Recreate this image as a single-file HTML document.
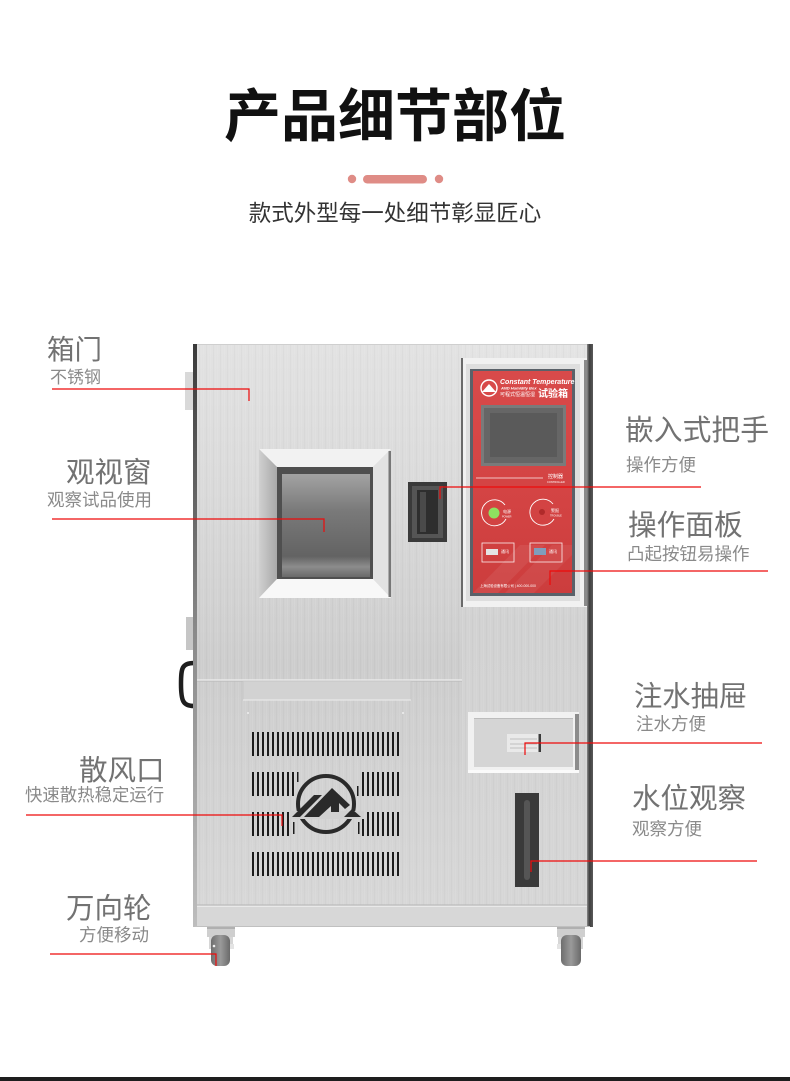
<!DOCTYPE html>
<html><head><meta charset="utf-8">
<style>
html,body{margin:0;padding:0;background:#fff;}
body{width:790px;height:1081px;position:relative;overflow:hidden;font-family:"Liberation Sans","Noto Sans CJK SC",sans-serif;}
.t{position:absolute;white-space:nowrap;line-height:1;font-family:"Liberation Sans","Noto Sans CJK SC",sans-serif;}
.big{color:#727272;}
.sm{color:#8a8a8a;}
svg{position:absolute;left:0;top:0;}
</style></head>
<body>
<svg width="790" height="1081" viewBox="0 0 790 1081" xmlns="http://www.w3.org/2000/svg">
<defs>
  <linearGradient id="bodyG" x1="0" y1="0" x2="0" y2="1">
    <stop offset="0" stop-color="#e2e2e2"/>
    <stop offset="0.25" stop-color="#dadada"/>
    <stop offset="0.55" stop-color="#cdcdcd"/>
    <stop offset="0.62" stop-color="#cfcfcf"/>
    <stop offset="1" stop-color="#d8d8d8"/>
  </linearGradient>
  <linearGradient id="colG" x1="0" y1="0" x2="0" y2="1">
    <stop offset="0" stop-color="#e4e4e4"/>
    <stop offset="0.5" stop-color="#d2d2d2"/>
    <stop offset="1" stop-color="#d6d6d6"/>
  </linearGradient>
  <linearGradient id="leftEdge" x1="0" y1="0" x2="0" y2="1">
    <stop offset="0" stop-color="#3a3a3a"/>
    <stop offset="0.5" stop-color="#8a8a8a"/>
    <stop offset="1" stop-color="#bdbdbd"/>
  </linearGradient>
  <linearGradient id="rightEdge" x1="0" y1="0" x2="1" y2="0">
    <stop offset="0" stop-color="#8a8a8a"/>
    <stop offset="0.4" stop-color="#3e3e3e"/>
    <stop offset="1" stop-color="#5a5a5a"/>
  </linearGradient>
  <linearGradient id="glass" x1="0" y1="0" x2="0" y2="1">
    <stop offset="0" stop-color="#a3a3a3"/>
    <stop offset="0.35" stop-color="#7a7a7a"/>
    <stop offset="0.8" stop-color="#636363"/>
    <stop offset="0.9" stop-color="#8c8c8c"/>
    <stop offset="1" stop-color="#6a6a6a"/>
  </linearGradient>
  <linearGradient id="leftBevel" x1="0" y1="0" x2="1" y2="0">
    <stop offset="0" stop-color="#d0d0d0"/>
    <stop offset="1" stop-color="#a8a8a8"/>
  </linearGradient>
  <linearGradient id="redG" x1="0" y1="0" x2="0" y2="1">
    <stop offset="0" stop-color="#d84a4a"/>
    <stop offset="0.6" stop-color="#d34343"/>
    <stop offset="1" stop-color="#cc3d3d"/>
  </linearGradient>
  <linearGradient id="wheelG" x1="0" y1="0" x2="1" y2="0">
    <stop offset="0" stop-color="#6e6e6e"/>
    <stop offset="0.5" stop-color="#9a9a9a"/>
    <stop offset="1" stop-color="#6a6a6a"/>
  </linearGradient>
  <pattern id="brush" width="7" height="40" patternUnits="userSpaceOnUse">
    <rect x="0" y="0" width="1" height="40" fill="#ffffff" opacity="0.08"/>
    <rect x="3" y="0" width="1" height="40" fill="#000000" opacity="0.025"/>
    <rect x="5" y="0" width="1" height="40" fill="#ffffff" opacity="0.05"/>
  </pattern>
</defs>

<!-- title dots -->
<circle cx="352" cy="179" r="4.2" fill="#df8c86"/>
<rect x="363" y="175" width="64" height="8.5" rx="4.2" fill="#df8c86"/>
<circle cx="439" cy="179" r="4.2" fill="#df8c86"/>

<!-- left side attachments -->
<rect x="185" y="372" width="9" height="38" fill="#d9d9d9"/>
<rect x="186" y="617" width="8" height="33" fill="#c6c6c6"/>
<path d="M194 663 C182 663 181 668 181 684 C181 701 183 706 194 706" fill="none" stroke="#1e1e1e" stroke-width="4.5"/>

<!-- cabinet body -->
<rect x="195" y="344" width="395" height="583" fill="url(#bodyG)"/>
<rect x="462" y="344" width="126" height="561" fill="url(#colG)"/>
<rect x="195" y="344" width="395" height="583" fill="url(#brush)"/>
<rect x="193" y="344" width="4" height="583" fill="url(#leftEdge)"/>
<rect x="587" y="344" width="6" height="583" fill="url(#rightEdge)"/>
<line x1="197" y1="344.5" x2="587" y2="344.5" stroke="#cfcfcf" stroke-width="1"/>

<!-- door separation lower section -->
<line x1="197" y1="680" x2="462" y2="680" stroke="#eeeeee" stroke-width="1.2"/>
<line x1="197" y1="681.2" x2="462" y2="681.2" stroke="#bdbdbd" stroke-width="0.8"/>
<rect x="243" y="681" width="168" height="19" fill="#d2d2d2" stroke="#c4c4c4" stroke-width="0.8"/>
<line x1="243" y1="700" x2="411" y2="700" stroke="#ededed" stroke-width="1"/>
<circle cx="248" cy="713" r="1" fill="#efefef"/>
<circle cx="403" cy="713" r="1" fill="#efefef"/>

<!-- base -->
<rect x="197" y="905" width="390" height="22" fill="#d7d7d7"/>
<line x1="197" y1="905" x2="587" y2="905" stroke="#b5b5b5" stroke-width="1"/>
<line x1="197" y1="906.2" x2="587" y2="906.2" stroke="#efefef" stroke-width="1"/>
<line x1="195" y1="926.5" x2="590" y2="926.5" stroke="#c0c0c0" stroke-width="1"/>

<!-- window -->
<polygon points="259,449 391,449 373,467 277,467" fill="#f2f2f2"/>
<polygon points="259,449 277,467 277,579 259,598" fill="url(#leftBevel)"/>
<polygon points="391,449 391,598 373,579 373,467" fill="#e2e2e2"/>
<polygon points="259,598 391,598 373,579 277,579" fill="#f8f8f8"/>
<rect x="388.5" y="451" width="2.5" height="146" fill="#777"/>
<rect x="277" y="467" width="96" height="112" fill="#4f4f4f"/>
<rect x="282" y="474" width="88" height="103" fill="url(#glass)"/>

<!-- embedded handle -->
<rect x="408" y="482" width="39" height="60" fill="#3a3a3a"/>
<rect x="412" y="486" width="31" height="52" fill="#555"/>
<rect x="417" y="490" width="21" height="44" fill="#2e2e2e"/>
<rect x="420" y="492" width="6" height="40" fill="#4a4a4a"/>

<!-- control panel -->
<rect x="461" y="358" width="126" height="249" fill="#f1f1f1"/>
<rect x="461" y="358" width="2" height="249" fill="#6a6a6a"/>
<rect x="584" y="360" width="3" height="246" fill="#8a8a8a"/>
<rect x="466" y="364" width="114" height="237" fill="#dedede"/>
<rect x="470" y="369" width="105" height="227" fill="#5a6169"/>
<rect x="473" y="371" width="99" height="222" fill="url(#redG)"/>
<polygon points="473,593 520,545 545,545 498,593" fill="#ffffff" opacity="0.07"/>
<polygon points="505,593 552,545 572,545 572,555 534,593" fill="#ffffff" opacity="0.06"/>
<!-- logo on panel -->
<circle cx="489" cy="388" r="8" fill="none" stroke="#fff" stroke-width="1.4"/>
<polygon points="482,392 489,384 496,392" fill="#fff"/>
<text x="500" y="384" font-family="Liberation Sans, sans-serif" font-size="7" font-weight="bold" font-style="italic" fill="#fff">Constant Temperature</text>
<text x="501" y="389.5" font-family="Liberation Sans, sans-serif" font-size="4" font-weight="bold" font-style="italic" fill="#fff">AND Humidity Box</text>
<text x="500" y="396" font-family="Liberation Sans, Noto Sans CJK SC, sans-serif" font-size="5" fill="#fff">可程式恒温恒湿</text>
<text x="538" y="397" font-family="Liberation Sans, Noto Sans CJK SC, sans-serif" font-size="10" font-weight="bold" fill="#fff">试验箱</text>
<!-- screen -->
<rect x="481" y="405" width="85" height="61" fill="#7a7a7a"/>
<rect x="484" y="408" width="79" height="55" fill="#666"/>
<rect x="490" y="413" width="67" height="44" fill="#5a5a5a"/>
<line x1="476" y1="478" x2="543" y2="478" stroke="#fff" stroke-width="0.8" opacity="0.9"/>
<text x="548" y="478" font-family="Liberation Sans, Noto Sans CJK SC, sans-serif" font-size="5" fill="#fff">控制器</text>
<text x="547" y="483" font-family="Liberation Sans, sans-serif" font-size="2.6" fill="#fff">CONTROLLER</text>
<!-- buttons -->
<path d="M505 505 A13 13 0 1 0 506 519" fill="none" stroke="#fff" stroke-width="0.9"/>
<circle cx="494" cy="513" r="5.5" fill="#8ee060"/>
<text x="503" y="513" font-family="Liberation Sans, Noto Sans CJK SC, sans-serif" font-size="4" fill="#fff">电源</text>
<text x="502" y="517.5" font-family="Liberation Sans, sans-serif" font-size="2.5" fill="#fff">POWER</text>
<path d="M553 504 A13 13 0 1 0 554 519" fill="none" stroke="#fff" stroke-width="0.9"/>
<circle cx="542" cy="512" r="3" fill="#b02a2a"/>
<text x="551" y="512" font-family="Liberation Sans, Noto Sans CJK SC, sans-serif" font-size="4" fill="#fff">警报</text>
<text x="550" y="516.5" font-family="Liberation Sans, sans-serif" font-size="2.5" fill="#fff">TROUBLE</text>
<rect x="482" y="543" width="32" height="19" fill="none" stroke="#fff" stroke-width="0.8" opacity="0.9"/>
<rect x="486" y="549" width="12" height="6" fill="#e4e4e4"/>
<text x="501" y="553" font-family="Liberation Sans, Noto Sans CJK SC, sans-serif" font-size="4" fill="#fff">通讯</text>
<rect x="530" y="543" width="32" height="19" fill="none" stroke="#fff" stroke-width="0.8" opacity="0.9"/>
<rect x="534" y="548" width="12" height="7" fill="#7f9dbb"/>
<text x="549" y="553" font-family="Liberation Sans, Noto Sans CJK SC, sans-serif" font-size="4" fill="#fff">通讯</text>
<text x="480" y="587" font-family="Liberation Sans, Noto Sans CJK SC, sans-serif" font-size="3.4" fill="#fff">上海试验设备有限公司 | 400-000-000</text>

<!-- vents -->
<g fill="#1c1c1c">
  <g id="row1">
    <rect x="252" y="732" width="2" height="24"/><rect x="257" y="732" width="2" height="24"/><rect x="262" y="732" width="2" height="24"/><rect x="267" y="732" width="2" height="24"/><rect x="272" y="732" width="2" height="24"/><rect x="277" y="732" width="2" height="24"/><rect x="282" y="732" width="2" height="24"/><rect x="287" y="732" width="2" height="24"/><rect x="292" y="732" width="2" height="24"/><rect x="297" y="732" width="2" height="24"/><rect x="302" y="732" width="2" height="24"/><rect x="307" y="732" width="2" height="24"/><rect x="312" y="732" width="2" height="24"/><rect x="317" y="732" width="2" height="24"/><rect x="322" y="732" width="2" height="24"/><rect x="327" y="732" width="2" height="24"/><rect x="332" y="732" width="2" height="24"/><rect x="337" y="732" width="2" height="24"/><rect x="342" y="732" width="2" height="24"/><rect x="347" y="732" width="2" height="24"/><rect x="352" y="732" width="2" height="24"/><rect x="357" y="732" width="2" height="24"/><rect x="362" y="732" width="2" height="24"/><rect x="367" y="732" width="2" height="24"/><rect x="372" y="732" width="2" height="24"/><rect x="377" y="732" width="2" height="24"/><rect x="382" y="732" width="2" height="24"/><rect x="387" y="732" width="2" height="24"/><rect x="392" y="732" width="2" height="24"/><rect x="397" y="732" width="2" height="24"/>
  </g>
  <use href="#row1" y="120"/>
  <g>
    <rect x="252" y="772" width="2" height="24"/><rect x="257" y="772" width="2" height="24"/><rect x="262" y="772" width="2" height="24"/><rect x="267" y="772" width="2" height="24"/><rect x="272" y="772" width="2" height="24"/><rect x="277" y="772" width="2" height="24"/><rect x="282" y="772" width="2" height="24"/><rect x="287" y="772" width="2" height="24"/><rect x="292" y="772" width="2" height="24"/><rect x="297" y="772" width="1.5" height="10"/>
    <rect x="357" y="786" width="1.5" height="10"/><rect x="362" y="772" width="2" height="24"/><rect x="367" y="772" width="2" height="24"/><rect x="372" y="772" width="2" height="24"/><rect x="377" y="772" width="2" height="24"/><rect x="382" y="772" width="2" height="24"/><rect x="387" y="772" width="2" height="24"/><rect x="392" y="772" width="2" height="24"/><rect x="397" y="772" width="2" height="24"/>
  </g>
  <g>
    <rect x="252" y="812" width="2" height="24"/><rect x="257" y="812" width="2" height="24"/><rect x="262" y="812" width="2" height="24"/><rect x="267" y="812" width="2" height="24"/><rect x="272" y="812" width="2" height="24"/><rect x="277" y="812" width="2" height="24"/><rect x="282" y="812" width="2" height="24"/><rect x="287" y="812" width="2" height="24"/><rect x="293" y="822" width="1.5" height="12"/>
    <rect x="358" y="822" width="1.5" height="12"/><rect x="362" y="812" width="2" height="24"/><rect x="367" y="812" width="2" height="24"/><rect x="372" y="812" width="2" height="24"/><rect x="377" y="812" width="2" height="24"/><rect x="382" y="812" width="2" height="24"/><rect x="387" y="812" width="2" height="24"/><rect x="392" y="812" width="2" height="24"/><rect x="397" y="812" width="2" height="24"/>
  </g>
</g>
<!-- logo on vent -->
<circle cx="326" cy="804" r="28" fill="none" stroke="#2a2a2a" stroke-width="4"/>
<rect x="290" y="811" width="74" height="8" fill="#d0d0d0"/>
<g fill="#2a2a2a">
  <polygon points="292,817 314,795 322,795 300,817"/>
  <polygon points="304,817 332,788 350,805 345,809 339,803 339,812 331,812 331,806 319,817"/>
  <polygon points="344,817 352,809 361,817"/>
</g>

<!-- right column: drawer -->
<rect x="468" y="712" width="111" height="61" fill="#f1f1f1"/>
<rect x="575" y="714" width="4" height="58" fill="#8c8c8c"/>
<rect x="468" y="770" width="111" height="3" fill="#fafafa"/>
<rect x="474" y="718" width="99" height="49" fill="#d5d5d5"/>
<rect x="474" y="718" width="99" height="1" fill="#bcbcbc"/>
<rect x="507" y="734" width="34" height="18" fill="#e9e9e9"/>
<line x1="510" y1="739" x2="537" y2="739" stroke="#bfbfbf" stroke-width="1"/>
<line x1="510" y1="744" x2="537" y2="744" stroke="#bfbfbf" stroke-width="1"/>
<line x1="510" y1="748" x2="537" y2="748" stroke="#bfbfbf" stroke-width="1"/>
<rect x="538.5" y="734" width="2.5" height="18" fill="#3a3a3a"/>

<!-- water level window -->
<rect x="515" y="793" width="24" height="94" fill="#3a3a3a"/>
<rect x="524" y="800" width="6" height="80" rx="3" fill="#555"/>

<!-- casters -->
<g>
  <rect x="207" y="927" width="28" height="10" fill="#cfcfcf"/>
  <rect x="207" y="927" width="28" height="2" fill="#b0b0b0"/>
  <rect x="209" y="937" width="5" height="12" fill="#d6d6d6"/>
  <rect x="228" y="937" width="5" height="12" fill="#d6d6d6"/>
  <rect x="211" y="935" width="19" height="31" rx="6" fill="url(#wheelG)"/>
  <circle cx="214" cy="946" r="1.3" fill="#eee"/>
  <rect x="230" y="944" width="4" height="5" fill="#e4e4e4"/>
</g>
<g>
  <rect x="557" y="927" width="28" height="10" fill="#cfcfcf"/>
  <rect x="557" y="927" width="28" height="2" fill="#b0b0b0"/>
  <rect x="558" y="937" width="5" height="12" fill="#d6d6d6"/>
  <rect x="578" y="937" width="5" height="12" fill="#d6d6d6"/>
  <rect x="561" y="935" width="20" height="31" rx="6" fill="url(#wheelG)"/>
  <rect x="557" y="944" width="4" height="5" fill="#e4e4e4"/>
</g>

<!-- red leader lines -->
<g fill="none" stroke="#ee0a0a" stroke-width="1.2">
  <polyline points="52,389 249,389 249,401"/>
  <polyline points="52,519 324,519 324,532"/>
  <polyline points="26,815 282,815 282,826"/>
  <polyline points="50,954 216,954 216,966"/>
  <polyline points="701,487 440,487 440,499"/>
  <polyline points="768,571 550,571 550,585"/>
  <polyline points="762,743 525,743 525,755"/>
  <polyline points="757,861 531,861 531,872"/>
</g>

<!-- bottom bar -->
<rect x="0" y="1077" width="790" height="4" fill="#1e1e1e"/>
</svg>

<!-- heading -->
<div class="t" style="left:0;width:790px;text-align:center;top:89px;font-size:57px;font-weight:bold;color:#111;">产品细节部位</div>
<div class="t" style="left:0;width:790px;text-align:center;top:203px;font-size:22.5px;color:#333;">款式外型每一处细节彰显匠心</div>

<!-- left labels -->
<div class="t big" style="left:47px;top:336px;font-size:27.5px;">箱门</div>
<div class="t sm" style="left:50px;top:369px;font-size:17px;">不锈钢</div>
<div class="t big" style="left:66px;top:459px;font-size:28.5px;">观视窗</div>
<div class="t sm" style="left:47px;top:492px;font-size:17.5px;">观察试品使用</div>
<div class="t big" style="left:79px;top:757px;font-size:28.5px;">散风口</div>
<div class="t sm" style="left:25px;top:787px;font-size:17.4px;">快速散热稳定运行</div>
<div class="t big" style="left:66px;top:895px;font-size:28.5px;">万向轮</div>
<div class="t sm" style="left:79px;top:927px;font-size:17.5px;">方便移动</div>

<!-- right labels -->
<div class="t big" style="left:625px;top:417px;font-size:28.8px;">嵌入式把手</div>
<div class="t sm" style="left:626px;top:457px;font-size:17.5px;">操作方便</div>
<div class="t big" style="left:628px;top:512px;font-size:28.7px;">操作面板</div>
<div class="t sm" style="left:627px;top:546px;font-size:17.5px;">凸起按钮易操作</div>
<div class="t big" style="left:634px;top:682px;font-size:28.3px;">注水抽屉</div>
<div class="t sm" style="left:636px;top:716px;font-size:17.5px;">注水方便</div>
<div class="t big" style="left:632px;top:785px;font-size:28.5px;">水位观察</div>
<div class="t sm" style="left:632px;top:821px;font-size:17.5px;">观察方便</div>
</body></html>
